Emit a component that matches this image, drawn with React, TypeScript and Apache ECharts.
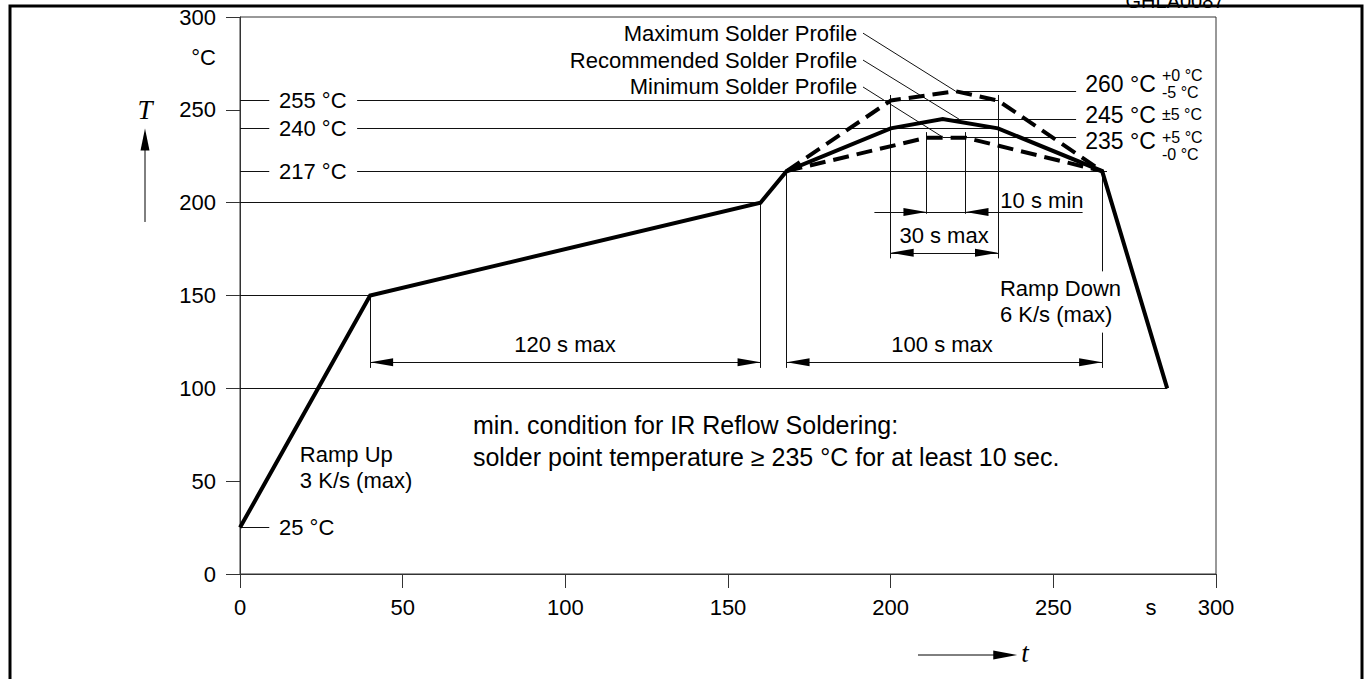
import React, { useEffect, useRef } from "react";
import * as echarts from "echarts";

// ---- data (seconds, °C) ----
const recT = [0, 40, 160, 168, 200, 216, 233, 265, 285];
const recTemp = [25, 150, 200, 217, 240, 245, 240, 217, 100];
const maxT = [168, 200, 220, 233, 265];
const maxTemp = [217, 255, 260, 255, 217];
const minT = [168, 211, 223, 265];
const minTemp = [217, 235, 235, 217];

// thin reference / dimension lines: [t1, T1, t2, T2]
const refLines = [
  [0, 255, 9, 255], [36, 255, 233, 255],
  [0, 240, 9, 240], [36, 240, 233, 240],
  [0, 217, 9, 217], [36, 217, 266.5, 217],
  [0, 200, 160, 200],
  [0, 150, 40, 150],
  [0, 100, 285, 100],
  [0, 25, 9, 25],
  [220, 260, 257, 260],
  [216, 245, 257, 245],
  [216, 235, 257, 235],
  [40, 150, 40, 111], [160, 200, 160, 111], [168, 217, 168, 111],
  [265, 217, 265, 163], [265, 130, 265, 111],
  [200, 258, 200, 170], [233, 258, 233, 170],
  [211, 238, 211, 194], [223, 238, 223, 194],
  [40, 114, 160, 114], [168, 114, 265, 114],
  [200, 173, 233, 173],
  [195, 195, 259, 195],
  [191.5, 291.3, 220, 260], [191.5, 276.8, 221, 245], [191.5, 262.3, 216, 235.3],
];

// arrow tips: [t, T, direction x]
const arrowTips = [
  [40, 114, -1], [160, 114, 1],
  [168, 114, -1], [265, 114, 1],
  [200, 173, -1], [233, 173, 1],
  [211, 195, 1], [223, 195, -1],
];

const xTickInterval = 50;
const yTickInterval = 50;

// text annotations: [text, t, T, align, size]
const notes: [string, number, number, string, number][] = [
  ["255 °C", 12, 255, "left", 22],
  ["240 °C", 12, 240, "left", 22],
  ["217 °C", 12, 217, "left", 22],
  ["25 °C", 12, 25, "left", 22],
  ["Maximum Solder Profile", 189.7, 291.3, "right", 22],
  ["Recommended Solder Profile", 189.7, 276.8, "right", 22],
  ["Minimum Solder Profile", 189.7, 262.3, "right", 22],
  ["260 °C", 259.8, 263.9, "left", 23],
  ["+0 °C", 283.4, 268.7, "left", 16],
  ["-5 °C", 283.4, 259.6, "left", 16],
  ["245 °C", 259.8, 247.2, "left", 23],
  ["±5 °C", 283.4, 247.7, "left", 16],
  ["235 °C", 259.8, 233.2, "left", 23],
  ["+5 °C", 283.4, 235.3, "left", 16],
  ["-0 °C", 283.4, 226.2, "left", 16],
  ["120 s max", 99.9, 123.5, "center", 22],
  ["100 s max", 215.8, 123.5, "center", 22],
  ["30 s max", 216.4, 182.5, "center", 22],
  ["10 s min", 246.5, 201.4, "center", 22],
  ["Ramp Up", 18.4, 64.1, "left", 22],
  ["3 K/s (max)", 18.4, 50.6, "left", 22],
  ["Ramp Down", 233.6, 154, "left", 22],
  ["6 K/s (max)", 233.6, 139.5, "left", 22],
  ["min. condition for IR Reflow Soldering:", 71.6, 80.2, "left", 25],
  ["solder point temperature ≥ 235 °C for at least 10 sec.", 71.6, 63, "left", 25],
];

const SANS = '"Liberation Sans", Arial, Helvetica, sans-serif';
const SERIF = '"Liberation Serif", "Times New Roman", serif';

function zip(a: number[], b: number[]) {
  return a.map((v, i) => [v, b[i]]);
}

export default function App() {
  const ref = useRef<HTMLDivElement>(null);
  useEffect(() => {
    const chart = echarts.init(ref.current!, null, { renderer: "svg" });
    const axisColor = "#333";
    chart.setOption({
      animation: false,
      backgroundColor: "#fff",
      grid: {
        left: 240, top: 17, width: 976, height: 557,
        show: true, borderColor: axisColor, borderWidth: 1,
      },
      xAxis: {
        type: "value", min: 0, max: 300, interval: xTickInterval,
        axisLine: { show: true, onZero: false, lineStyle: { color: axisColor, width: 1 } },
        axisTick: { show: true, length: 14, lineStyle: { color: axisColor } },
        axisLabel: { color: "#000", fontSize: 22, fontFamily: SANS, margin: 22 },
        splitLine: { show: false },
      },
      yAxis: {
        type: "value", min: 0, max: 300, interval: yTickInterval,
        axisLine: { show: true, onZero: false, lineStyle: { color: axisColor, width: 1 } },
        axisTick: { show: true, length: 14, lineStyle: { color: axisColor } },
        axisLabel: { color: "#000", fontSize: 22, fontFamily: SANS, margin: 24 },
        splitLine: { show: false },
      },
      series: [
        {
          type: "lines", coordinateSystem: "cartesian2d", silent: true, z: 1,
          symbol: "none",
          lineStyle: { color: "#111", width: 1, opacity: 1, curveness: 0 },
          data: refLines.map((s) => ({ coords: [[s[0], s[1]], [s[2], s[3]]] })),
        },
        {
          type: "line", name: "Maximum Solder Profile", data: zip(maxT, maxTemp),
          symbol: "none", z: 3,
          lineStyle: { color: "#000", width: 4, type: [16, 8], cap: "butt" },
        },
        {
          type: "line", name: "Minimum Solder Profile", data: zip(minT, minTemp),
          symbol: "none", z: 3,
          lineStyle: { color: "#000", width: 4, type: [16, 8], cap: "butt" },
        },
        {
          type: "line", name: "Recommended Solder Profile", data: zip(recT, recTemp),
          symbol: "none", z: 4,
          lineStyle: { color: "#000", width: 4, join: "miter" },
        },
      ],
    });

    const P = (t: number, v: number) => chart.convertToPixel({ gridIndex: 0 }, [t, v]) as number[];
    const origin = P(0, 0);
    const els: any[] = [];

    const head = (tip: number[], dx: number, dy: number, L = 23, W = 4) => {
      const bx = tip[0] - dx * L, by = tip[1] - dy * L;
      const px = -dy * W, py = dx * W;
      els.push({
        type: "polygon", z: 100,
        shape: { points: [[tip[0], tip[1]], [bx + px, by + py], [bx - px, by - py]] },
        style: { fill: "#000" },
      });
    };
    const text = (s: string, x: number, y: number, align: string, size: number, family = SANS, style = "normal", vAlign = "middle") => {
      els.push({
        type: "text", x, y, z: 100,
        style: {
          text: s, fill: "#000", fontSize: size, fontFamily: family, fontStyle: style,
          align, textAlign: align, verticalAlign: vAlign, textVerticalAlign: vAlign,
        },
      });
    };

    arrowTips.forEach(([t, v, d]) => head(P(t, v), d, 0));
    notes.forEach(([s, t, v, a, size]) => {
      const p = P(t, v);
      text(s, p[0], p[1], a, size);
    });

    // unit labels
    text("°C", origin[0] - 24, P(0, 278)[1], "right", 22);
    text("s", P(280, 0)[0], origin[1] + 33, "center", 22);

    // T with upward arrow
    const tx = origin[0] - 95;
    text("T", tx, P(0, 250)[1], "center", 27, SERIF, "italic");
    const tipT = P(0, 240)[1];
    els.push({ type: "line", shape: { x1: tx, y1: P(0, 189.6)[1], x2: tx, y2: tipT + 10 }, style: { stroke: "#000", lineWidth: 1 } });
    head([tx, tipT], 0, -1, 22, 4.5);

    // t with right arrow
    const ay = origin[1] + 81;
    const ax1 = P(208.4, 0)[0], ax2 = P(238.9, 0)[0];
    els.push({ type: "line", shape: { x1: ax1, y1: ay, x2: ax2 - 10, y2: ay }, style: { stroke: "#000", lineWidth: 1 } });
    head([ax2, ay], 1, 0, 24, 4.5);
    text("t", P(241.3, 0)[0], ay - 2, "center", 27, SERIF, "italic");

    // outer frame & clipped figure code
    els.push({ type: "rect", shape: { x: 10, y: 6, width: 1352, height: 720 }, style: { fill: "none", stroke: "#000", lineWidth: 3 }, z: 90 });
    text("GHLA0087", 1175, 11, "center", 20, SANS, "normal", "bottom");

    chart.setOption({ graphic: { elements: els } });
    return () => chart.dispose();
  }, []);
  return (
    <div
      ref={ref}
      style={{ position: "fixed", left: 0, top: 0, width: 1372, height: 679, background: "#fff" }}
    />
  );
}
